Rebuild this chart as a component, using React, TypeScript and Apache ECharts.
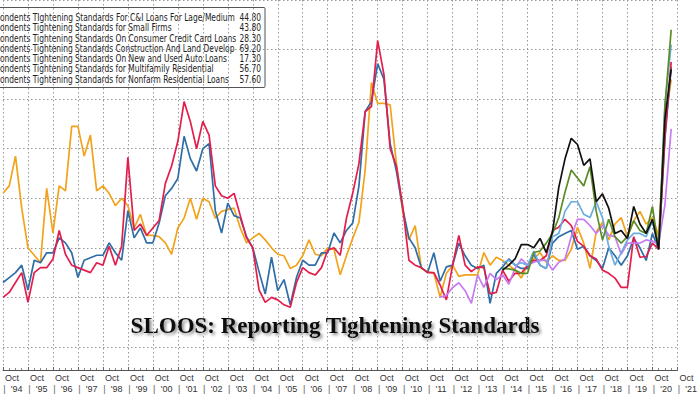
import React, { useEffect, useRef } from "react";
import * as echarts from "echarts";

// ---- data (quarterly, Bloomberg dating) ----
const ciLargeStart = 1994.0;
const ciLarge = [
  -20,
  -18, -14, -10, -22, -10, -8, -8, -4.5, 7, -2.6, -7, -8, -9, -10, -6, -7, 0.6, -7, 0.6, 36.5,
  7, 9.6, 5, 8, 11, 26, 33, 43, 59, 51, 40, 51, 45.5, 25, 21, 20, 22,
  13, 4, 0, -17, -22, -20, -21, -23, -24, -14, -8, -10, -11, -8, -1, 0, -3, 12, 22, 34, 55, 57,
  83.6, 70, 40, 33, 17, -5, -7, -8, -10, -10, -15, -21,
  -7, 5, -7, -9.6, -7.7, -8, -18.6, -18, -9, -13.5, -10.3, -10.3, -7, -5.1, -5.1, -3.2, 7, 8.3,
  11.5, 9, 2.6, 0.6, -3.2, -4.5, -9, -10.3, -12.2, -16, -16, 4.5, -3.8, -3.5, 1.9, -0.6, 45, 75,
];

const smallFirmsStart = 1994.0;
const smallFirms = [
  -14,
  -12, -10, -7, -17, -5, -6, -2, -2, 4, 2, -2, -12, -5, -4, -3, -3, 2, -2, -5, 15,
  4, 8, 2, 2, 10, 21, 24, 28, 45, 36, 31, 40, 42, 15, 6, 18, 13,
  12, 4.5, 0, -9.6, -18.6, -3.8, -17.3, -12.8, -23, -12, -5, -7, -7, -2, -2, 6, 2, 7, 10, 25, 55,
  59, 74.3, 68, 42, 31, 16, 4, 0, -8, -10, -2, -13.5, -7.7,
  -7, 1.9, -3.2, -7, -8.3, -7, -22.4, -10.3, -7.7, -4.5, -7, -8.3, -8.3, -2.6, -7, -8.3, 1.9, 4.5,
  5.8, 7, -0.6, 0.6, -3.2, -5.1, -8.3, 0, -3.2, -7, -3.2, 3.8, 0, -5.1, 5.8, -0.6, 44, 73,
];

const creditCardStart = 1994.0;
const creditCard = [
  22,
  25, 37, 16, 0, -3, -6, 24, 6, 25, 23, 49, 49, 37, 45.5, 23, 25, 22, 17, 20, 17,
  8, 13.5, 5, 5, 4.5, 2, -2.6, 8, 12, 20, 11.5, 20, 18.6, 12, 14.7, 15.4, 16,
  8, 2, 4, 5.8, 3.2, 0, -2.6, -3.2, -8.3, -7, -3.2, 3.2, -2.6, -3.2, 0, -0.6, -10.9, -3.2, 3.8,
  10.3, 31.4, 66.7, 58.3, 58.3, 57.7, 34, 14.7, 3.2, 9, -8.3, -9.6, -10.3, -19.9, -10.3,
  -7, -11.5, -10.9, -10.9, -10.9, -1.9, -7, -3.8, -5.1, -7, -9, -12.2, -7, -4.5, -1.9, -5.8, -3.2,
  -5.1, -5.1, -0.6, 8.3, 1.9, -8.3, 6.4, 10.3, 3.2, 9.6, 12.2, 4.5, 10.9, 14.7, 9.6, 12.2, 5, 50, 68,
];

const autoLoansStart = 2011.5;
const autoLoans = [
  -19.9, -19.2, -16, -14.1, -17.3, -22.4, -10.9, -16, -10.3, -12.8, -10.9, -14.7, -8.3, -4.5, -7,
  -5.8, -5.1, -5.1, -9, -5.8, -4.5, 4.5, 11.5, 11.5, 9, 5.8, 9, 5.1, 4.5, -2.6, 1.9, 1.9, 1.9, 3.2,
  2.6, 1.9, 17.3, 48,
];

const creStart = 2014.0;
const construction = [
  -9, -7, -4.5, 1.3, 1.3, 0, 3.8, -1.9, 6.4, 24.4, 35.9, 44.2, 41.7, 33.3, 35.9, 18.6, 21.8, 16,
  5.8, 7, 3.8, 16.7, 9.6, 5.8, 11.5, -0.6, 52, 72,
];
const multifamily = [
  -8.3, -8.5, -9, -10.3, -10.3, -1.9, -1.3, 1.9, 5.8, 12.2, 22.4, 31.4, 28.2, 25, 32.7, 14.7, 3.2,
  11.5, 4.5, 1.9, 4.5, 10.9, 7, 5.8, 16.7, -0.6, 57, 88,
];
const nonfarm = [
  -6, -5, -7, -6, -7, -1.3, -7, -8.3, 4.5, 5.8, 14.7, 18.6, 18.6, 13.5, 12.2, 18.6, 12.2, 0.6, -7,
  -1.9, 3.2, 5.8, 5.8, 4.5, 10.9, -0.6, 58, 82,
];

const legendNames = [
  "Respondents TIghtening Standards For C&I Loans For Lage/Medium",
  "Respondents Tightening Standards for Small Firms",
  "Respondents Tightening Standards On Consumer Credit Card Loans",
  "Respondents Tightening Standards Construction And Land Develop",
  "Respondents Tightening Standards On New and Used Auto Loans",
  "Respondents Tightening Standards for Multifamily Residential",
  "Respondents Tightening Standards for Nonfarm Residential Loans",
];
const legendValues = ["44.80", "43.80", "28.30", "69.20", "17.30", "56.70", "57.60"];

const titleText = "SLOOS: Reporting Tightening Standards";

const toPairs = (start: number, vals: number[]) => vals.map((v, i) => [start + 0.25 * i, v]);

const LEG_FONT = '"DejaVu Sans", sans-serif';
const AX_FONT = '"Liberation Sans", Arial, sans-serif';

function measure(text: string, font: string) {
  const ctx = document.createElement("canvas").getContext("2d")!;
  ctx.font = font;
  return ctx.measureText(text).width;
}

export default function App() {
  const ref = useRef<HTMLDivElement>(null);
  useEffect(() => {
    document.body.style.margin = "0";
    const chart = echarts.init(ref.current!, null, { renderer: "svg" });

    const fontStr = `10.5px ${LEG_FONT}`;
    const s = 235 / measure("ondents TIghtening Standards For C&I Loans For Lage/Medium", fontStr);
    const respW = measure("Resp", fontStr) * s;

    const seriesDefs = [
      { name: legendNames[2], color: "#f2a31b", start: creditCardStart, data: creditCard },
      { name: legendNames[1], color: "#2f6ea6", start: smallFirmsStart, data: smallFirms },
      { name: legendNames[0], color: "#e31d4c", start: ciLargeStart, data: ciLarge },
      { name: legendNames[4], color: "#c77bf2", start: autoLoansStart, data: autoLoans },
      { name: legendNames[6], color: "#6aaee0", start: creStart, data: nonfarm },
      { name: legendNames[5], color: "#5c8c25", start: creStart, data: multifamily },
      { name: legendNames[3], color: "#111111", start: creStart, data: construction },
    ];

    const legendChildren: any[] = [
      {
        type: "rect",
        shape: { x: -10, y: 7.5, width: 275, height: 80, r: 1 },
        style: { fill: "#ffffff", stroke: "#555555", lineWidth: 1 },
      },
    ];
    legendNames.forEach((n, i) => {
      const y = 17.4 + i * 10.33;
      legendChildren.push({
        type: "text",
        x: -respW,
        y,
        scaleX: s,
        style: { text: n, font: fontStr, fill: "#222", align: "left", verticalAlign: "middle" },
      });
      legendChildren.push({
        type: "text",
        x: 261,
        y,
        scaleX: s,
        style: { text: legendValues[i], font: fontStr, fill: "#222", align: "right", verticalAlign: "middle" },
      });
    });

    const gridLine = { show: true, lineStyle: { color: "#999", type: [1.5, 2.5], width: 1 } };

    chart.setOption({
      animation: false,
      backgroundColor: "#ffffff",
      grid: { left: -4.4, right: -8.4, top: -13.7, bottom: 22, containLabel: false },
      xAxis: {
        type: "value",
        min: 1994,
        max: 2021,
        interval: 1,
        axisLine: { show: true, onZero: false, lineStyle: { color: "#555", width: 1 } },
        axisTick: { show: true, inside: true, length: 3, lineStyle: { color: "#666" } },
        minorTick: { show: true, splitNumber: 4, length: 2, lineStyle: { color: "#888" } },
        splitLine: gridLine,
        axisLabel: {
          show: true,
          margin: 2,
          align: "left",
          fontFamily: AX_FONT,
          fontSize: 9,
          color: "#333",
          lineHeight: 11,
          formatter: (v: number) => {
            const yy = String(Math.round(v)).slice(2);
            return `{o|Oct}\n{s||}{y|'${yy}}`;
          },
          rich: {
            o: { fontFamily: AX_FONT, fontSize: 9, color: "#333", lineHeight: 11, padding: [0, 0, 0, 2] },
            s: { fontFamily: AX_FONT, fontSize: 11, color: "#777", lineHeight: 11 },
            y: { fontFamily: AX_FONT, fontSize: 9, color: "#333", lineHeight: 11, padding: [0, 0, 0, 5] },
          },
        },
      },
      yAxis: {
        type: "value",
        min: -49.3,
        max: 100,
        splitNumber: 7,
        axisLine: { show: false },
        axisTick: { show: false },
        axisLabel: { show: false },
        splitLine: gridLine,
      },
      series: seriesDefs.map((d) => ({
        type: "line",
        name: d.name,
        data: toPairs(d.start, d.data),
        showSymbol: false,
        symbol: "none",
        lineStyle: { color: d.color, width: 1.7 },
        itemStyle: { color: d.color },
      })),
      graphic: [
        { type: "group", children: legendChildren },
        {
          type: "text",
          x: 335,
          y: 325,
          style: {
            text: titleText,
            font: 'bold 23px "Liberation Serif", "Times New Roman", serif',
            fill: "#111",
            align: "center",
            verticalAlign: "middle",
            textShadowColor: "rgba(0,0,0,0.45)",
            textShadowBlur: 3,
            textShadowOffsetX: 2,
            textShadowOffsetY: 2,
          },
        },
      ],
    });
    return () => chart.dispose();
  }, []);
  return <div ref={ref} style={{ width: 700, height: 394 }} />;
}
